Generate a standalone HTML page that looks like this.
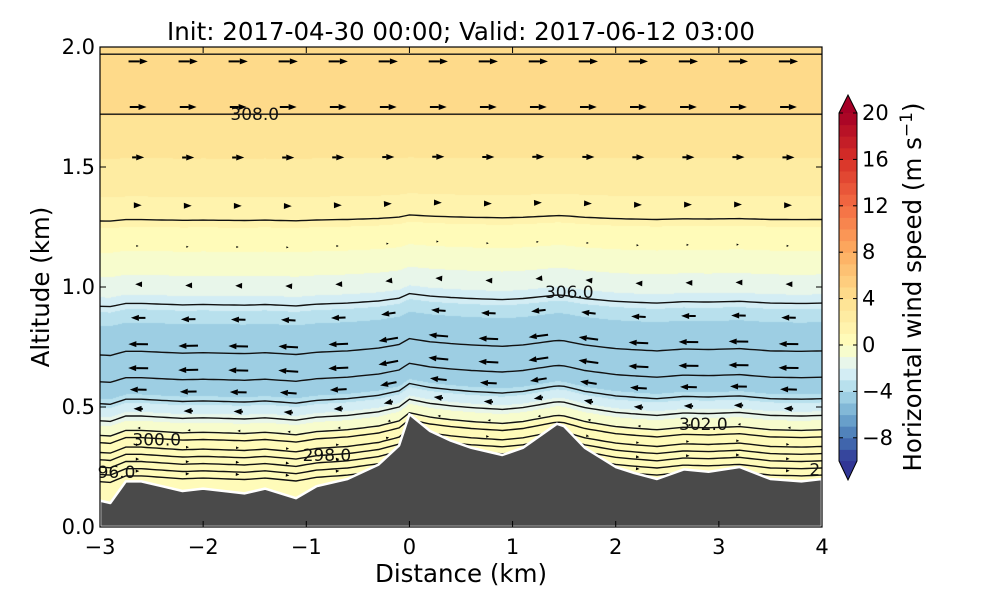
<!DOCTYPE html>
<html><head><meta charset="utf-8"><style>
html,body{margin:0;padding:0;background:#fff;}
#wrap{position:relative;width:1000px;height:600px;font-family:"DejaVu Sans","Liberation Sans",sans-serif;}
canvas,svg{position:absolute;left:0;top:0;}
svg text{font-family:"DejaVu Sans","Liberation Sans",sans-serif;}
</style></head><body>
<div id="wrap">
<canvas id="cv" width="1000" height="600"></canvas>
<svg id="sv" width="1000" height="600"></svg>
</div>
<script>
// ---- data ----
const terrainX = [-3,-2.9,-2.75,-2.6,-2.4,-2.2,-2.0,-1.8,-1.6,-1.4,-1.1,-0.9,-0.6,-0.3,-0.1,0,0.2,0.4,0.6,0.9,1.1,1.43,1.5,1.7,2.0,2.18,2.4,2.66,2.9,3.2,3.5,3.8,4.0];
const terrainZ = [0.11,0.10,0.19,0.19,0.17,0.15,0.16,0.15,0.14,0.16,0.12,0.17,0.20,0.26,0.34,0.47,0.40,0.36,0.33,0.30,0.33,0.43,0.42,0.33,0.25,0.225,0.20,0.24,0.23,0.25,0.20,0.19,0.20];
const profZ = [0,0.2,0.3,0.38,0.44,0.5,0.55,0.65,0.75,0.85,0.95,1.05,1.15,1.3,1.5,1.75,2.0];
const profU = [0.7,0.6,0.5,0.3,-1,-2.6,-4,-5,-5,-4,-2.2,-1,0,1.5,2.8,4.2,5.0];
const arrowRowZ = [1.94,1.75,1.54,1.34,1.17,1.01,0.87,0.76,0.66,0.57,0.49,0.41,0.34,0.28,0.23];
const arrowColX = [-2.63,-2.145,-1.66,-1.175,-0.69,-0.205,0.28,0.765,1.25,1.735,2.22,2.705,3.19,3.675];
const contourZ = [1.97,1.72,1.28,0.93,0.73,0.62,0.53,0.46,0.40,0.37,0.33,0.30,0.27,0.24,0.21];
const contourLabels = [
 {t:"308.0",x:-1.5,z:1.72},{t:"306.0",x:1.55,z:0.98},{t:"302.0",x:2.85,z:0.43},
 {t:"300.0",x:-2.45,z:0.365},{t:"298.0",x:-0.8,z:0.30},{t:"96.0",x:-2.84,z:0.23},{t:"2",x:3.93,z:0.24}];
const xTicks=[-3,-2,-1,0,1,2,3,4];
const yTicks=[0,0.5,1.0,1.5,2.0];
const yTickLabels=["0.0","0.5","1.0","1.5","2.0"];
const cbTicks=[-8,-4,0,4,8,12,16,20];
// ---- scales ----
const X0=100,X1=822,Y0=527,Y1=47;
const sx=x=>X0+(x+3)/7*(X1-X0);
const sy=z=>Y0-z/2*(Y0-Y1);
function interp(xs,ys,x){if(x<=xs[0])return ys[0];for(let i=1;i<xs.length;i++){if(x<=xs[i]){const t=(x-xs[i-1])/(xs[i]-xs[i-1]);return ys[i-1]+t*(ys[i]-ys[i-1]);}}return ys[ys.length-1];}
const zs=x=>interp(terrainX,terrainZ,x);
const wgt=b=>0.35*Math.max(0,Math.min(1,1-b/1.6));
const disp=(x,b)=>(zs(x)-0.18)*wgt(b);
const stops=["#313695","#4575b4","#74add1","#abd9e9","#e0f3f8","#ffffbf","#fee090","#fdae61","#f46d43","#d73027","#a50026"];
const hex=h=>[parseInt(h.substr(1,2),16),parseInt(h.substr(3,2),16),parseInt(h.substr(5,2),16)];
const stopRGB=stops.map(hex);
function cmap(v){let p=v<0?(v+10)/10*5:5+v/20*5;p=Math.max(0,Math.min(10,p));const i=Math.min(9,Math.floor(p)),t=p-i;const a=stopRGB[i],b=stopRGB[i+1];return [0,1,2].map(k=>Math.round(a[k]+(b[k]-a[k])*t));}
function levelColor(u){let l=Math.floor(u);l=Math.max(-10,Math.min(19,l));return cmap(l+0.5);}
// ---- field ----
const cv=document.getElementById('cv'),ctx=cv.getContext('2d');
const img=ctx.createImageData(X1-X0,Y0-Y1);
for(let px=0;px<X1-X0;px++){const x=(px+0.5)/(X1-X0)*7-3;
 for(let py=0;py<Y0-Y1;py++){const z=(Y0-Y1-py-0.5)/(Y0-Y1)*2;
  let b=z;for(let k=0;k<3;k++)b=z-disp(x,b);
  const c=levelColor(interp(profZ,profU,b));const o=(py*(X1-X0)+px)*4;
  img.data[o]=c[0];img.data[o+1]=c[1];img.data[o+2]=c[2];img.data[o+3]=255;}}
ctx.putImageData(img,X0,Y1);
// ---- svg ----
const NS="http://www.w3.org/2000/svg",sv=document.getElementById('sv');
function mk(tag,attrs,parent){const e=document.createElementNS(NS,tag);for(const k in attrs)e.setAttribute(k,attrs[k]);(parent||sv).appendChild(e);return e;}
// contours
const gC=mk('g',{});


contourZ.forEach(b=>{let d="";for(let x=-3;x<=4.001;x+=0.05){const z=b+disp(x,b);d+=(d?"L":"M")+sx(x).toFixed(1)+","+sy(z).toFixed(1);}
 const p=mk('path',{d:d,fill:'none',stroke:'#111','stroke-width':1.4},gC);
 
 });
contourLabels.forEach(l=>{const t=mk('text',{x:sx(l.x),y:sy(l.z)+6,'font-size':17,'text-anchor':'middle',fill:'#111'},gC);t.textContent=l.t;
 
 });
// arrows
const gA=mk('g',{});


arrowColX.forEach(x=>arrowRowZ.forEach(b=>{const z=b+disp(x,b);if(z<zs(x)+0.02)return;
 const u=interp(profZ,profU,b);const dz=(b+disp(x+0.05,b))-(b+disp(x-0.05,b));const slope=dz/0.1*(240/103.1);
 const L=u*4;const cx=sx(x),cy=sy(z);const n=Math.hypot(1,slope);const ux=1/n,uy=-slope/n;
 const dx=L*ux,dy=L*uy;const hl=Math.min(8,Math.abs(L)*0.9+1.5),hw=Math.min(3,Math.abs(L)*0.35+0.8);
 const sgn=Math.sign(L)||1;const tx=cx+dx/2,ty=cy+dy/2;const bx=tx-sgn*ux*hl,by=ty-sgn*uy*hl;
 const g=mk('g',{},gA);
 
 
 if(Math.abs(L)>hl)mk('line',{x1:cx-dx/2,y1:cy-dy/2,x2:bx,y2:by,stroke:'#000','stroke-width':2},g);
 mk('polygon',{points:`${tx},${ty} ${bx-uy*hw},${by+ux*hw} ${bx+uy*hw},${by-ux*hw}`,fill:'#000'},g);}));
// terrain
let td="M"+sx(-3)+","+sy(0);terrainX.forEach((x,i)=>td+="L"+sx(x).toFixed(1)+","+sy(terrainZ[i]).toFixed(1));td+="L"+sx(4)+","+sy(0)+"Z";
const ter=mk('path',{d:td,fill:'#4a4a4a',stroke:'#fff','stroke-width':2.5,'stroke-linejoin':'round'});


// frame & ticks
const fr=mk('rect',{x:X0,y:Y1,width:X1-X0,height:Y0-Y1,fill:'none',stroke:'#000','stroke-width':1.2});


xTicks.forEach(v=>{const x=sx(v);mk('line',{x1:x,y1:Y0,x2:x,y2:Y0-6,stroke:'#000'});mk('line',{x1:x,y1:Y1,x2:x,y2:Y1+6,stroke:'#000'});
 const t=mk('text',{x:x,y:554,'font-size':21,'text-anchor':'middle'});t.textContent=v<0?"\u2212"+(-v):String(v);
 
 });
yTicks.forEach((v,i)=>{const y=sy(v);mk('line',{x1:X0,y1:y,x2:X0+6,y2:y,stroke:'#000'});mk('line',{x1:X1,y1:y,x2:X1-6,y2:y,stroke:'#000'});
 const t=mk('text',{x:95,y:y+7,'font-size':21,'text-anchor':'end'});t.textContent=yTickLabels[i];
 
 });
const xt=mk('text',{x:461,y:582,'font-size':24.5,'text-anchor':'middle'});xt.textContent="Distance (km)";


const yt=mk('text',{x:49,y:287,'font-size':24.5,'text-anchor':'middle',transform:'rotate(-90 49 287)'});yt.textContent="Altitude (km)";


const tt=mk('text',{x:461,y:40,'font-size':24.5,'text-anchor':'middle'});tt.textContent="Init: 2017-04-30 00:00; Valid: 2017-06-12 03:00";


// colorbar
const CB0=839,CB1=857,CBT=113,CBB=461;const cy=v=>CBB-(v+10)/30*(CBB-CBT);
const gB=mk('g',{});


for(let l=-10;l<20;l++){const c=cmap(l+0.5);mk('rect',{x:CB0,y:cy(l+1),width:CB1-CB0,height:cy(l)-cy(l+1)+0.5,fill:`rgb(${c})`},gB);}
const ct=cmap(21),cbm=cmap(-11);
mk('polygon',{points:`${CB0},${CBT} ${CB1},${CBT} ${(CB0+CB1)/2},95`,fill:`rgb(${ct})`},gB);
mk('polygon',{points:`${CB0},${CBB} ${CB1},${CBB} ${(CB0+CB1)/2},480`,fill:`rgb(${cbm})`},gB);
mk('polygon',{points:`${CB0},${CBT} ${(CB0+CB1)/2},95 ${CB1},${CBT} ${CB1},${CBB} ${(CB0+CB1)/2},480 ${CB0},${CBB}`,fill:'none',stroke:'#000','stroke-width':1},gB);
cbTicks.forEach(v=>{const y=cy(v);mk('line',{x1:CB1-4,y1:y,x2:CB1,y2:y,stroke:'#000'},gB);mk('line',{x1:CB0,y1:y,x2:CB0+4,y2:y,stroke:'#000'},gB);
 const t=mk('text',{x:862,y:y+7,'font-size':21},gB);t.textContent=v<0?"\u2212"+(-v):String(v);
 
 });
const cl=mk('text',{x:921,y:287,'font-size':24.5,'text-anchor':'middle',transform:'rotate(-90 921 287)'});
cl.innerHTML='Horizontal wind speed (m s<tspan dy="-9" font-size="17">\u22121</tspan><tspan dy="9">)</tspan>';


</script>
</body></html>
